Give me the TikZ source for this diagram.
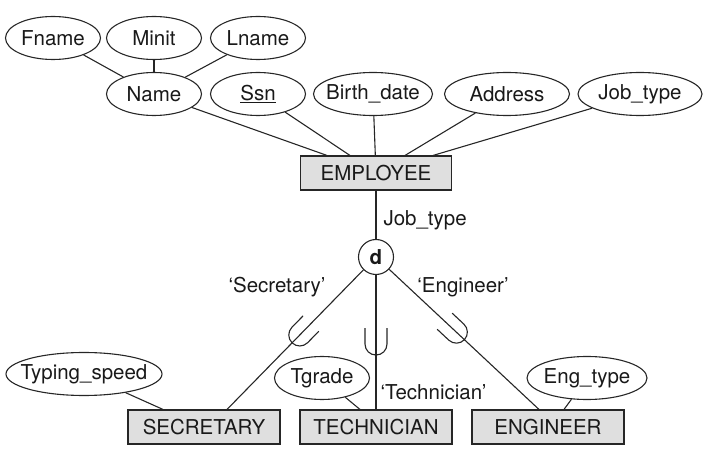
\documentclass[tikz,border=0pt]{standalone}
\usepackage{fontspec}
\setmainfont{TeX Gyre Heros}
\usetikzlibrary{shapes.geometric, decorations.markings}

\begin{document}
\begin{tikzpicture}[x=1pt, y=-1pt, line width=1.1pt, draw=black!85, text=black!90,
	font=\fontsize{20.5}{24}\selectfont,
	attr/.style={draw, ellipse, inner xsep=-20pt, inner ysep=0pt, minimum height=43pt, minimum width=#1},
	attr/.default=95pt,
	entity/.style={draw, fill=gray!25, minimum width=152pt, minimum height=34pt, inner sep=0pt},
	disj/.style={draw, circle, minimum size=35pt, inner sep=0pt, font=\fontsize{20.5}{24}\selectfont\bfseries},
	lbl/.style={inner sep=0pt},
	subset/.style={postaction={decorate}, decoration={markings, mark=at position #1 with {\draw (-16pt,11pt) -- (0pt,11pt) arc (90:-90:11pt) -- (-16pt,-11pt);}}}]
	\useasboundingbox (0,0) rectangle (724,465);
	% attributes of the superclass
	\node[attr] (fname) at (53,38) {Fname};
	\node[attr] (minit) at (154,38) {Minit};
	\node[attr] (lname) at (258,38) {Lname};
	\node[attr] (name) at (154,94) {Name};
	\node[attr] (ssn) at (258,94) {\underline{Ssn}};
	\node[attr=119pt] (bdate) at (373,94) {Birth\_date};
	\node[attr=125pt] (addr) at (507,94) {Address};
	\node[attr=124pt] (jtype) at (640,94) {Job\_type};
	\node[entity, minimum width=151pt] (emp) at (376,173) {EMPLOYEE};
	\node[disj] (d) at (376,257) {d};
	% subclasses
	\node[entity] (sec) at (204,427) {SECRETARY};
	\node[entity] (tech) at (376,427) {TECHNICIAN};
	\node[entity] (eng) at (548,427) {ENGINEER};
	\node[attr=156pt] (tspeed) at (84,374) {Typing\_speed};
	\node[attr] (tgrade) at (322,378) {Tgrade};
	\node[attr=120pt] (etype) at (587,378) {Eng\_type};
	% labels
	\node[lbl, anchor=west] (jlbl) at (383,220) {Job\_type};
	\node[lbl] (slbl) at (277,287) {‘Secretary’};
	\node[lbl] (elbl) at (463,287) {‘Engineer’};
	\node[lbl, anchor=west] (tlbl) at (380,392) {‘Technician’};

	\draw (fname) -- (name);
	\draw (minit) -- (name);
	\draw (lname) -- (name);
	\draw (name) -- ([xshift=-49pt]emp.north);
	\draw (ssn) -- ([xshift=-26pt]emp.north);
	\draw (bdate) -- (emp);
	\draw (addr) -- ([xshift=29pt]emp.north);
	\draw (jtype) -- ([xshift=57pt]emp.north);
	\draw (emp) -- (d);
	\draw[subset=91pt] (d) -- ([xshift=23pt]sec.north);
	\draw[subset=69pt] (d) -- (tech);
	\draw[subset=92pt] (d) -- ([xshift=-9pt]eng.north);
	\draw (tspeed) -- ([xshift=-41pt]sec.north);
	\draw (tgrade) -- ([xshift=-16pt]tech.north);
	\draw (etype) -- ([xshift=16pt]eng.north);
\end{tikzpicture}
\end{document}
